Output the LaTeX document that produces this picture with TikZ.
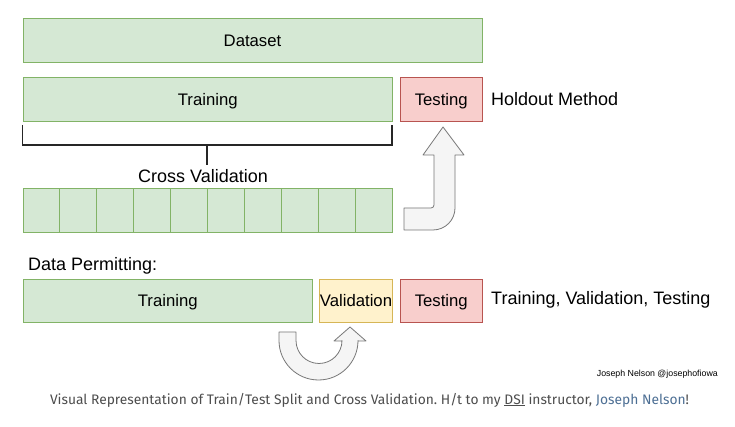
\documentclass[tikz,border=0pt]{standalone}
\usepackage{fontspec}
\setmainfont{Liberation Sans}
\newfontfamily\capfont{Fira Sans}
\definecolor{gfill}{HTML}{D5E8D4}
\definecolor{gline}{HTML}{82B366}
\definecolor{rfill}{HTML}{F8CECC}
\definecolor{rline}{HTML}{B85450}
\definecolor{yfill}{HTML}{FFF2CC}
\definecolor{yline}{HTML}{D6B656}
\definecolor{afill}{HTML}{F5F5F5}
\definecolor{aline}{HTML}{777777}
\definecolor{capgray}{HTML}{4D4D4D}
\definecolor{linkblue}{HTML}{4D6F94}
\begin{document}
\frenchspacing
\begin{tikzpicture}[x=1pt,y=1pt,
  base/.style={draw, line width=1pt, anchor=north west, inner sep=0pt, minimum height=44pt, text height=12pt, text depth=0pt, font=\fontsize{16.7}{20}\selectfont},
  gbox/.style={base, fill=gfill, draw=gline},
  rbox/.style={base, fill=rfill, draw=rline},
  ybox/.style={base, fill=yfill, draw=yline},
  lbl/.style={inner sep=0pt, font=\fontsize{18}{21}\selectfont},
  bigarrow/.style={fill=afill, draw=aline, line width=0.8pt, line join=round},
  bracket/.style={draw=black!85, line width=1.6pt}
]
\useasboundingbox (0,0) rectangle (735,427);
\fill[white] (0,0) rectangle (735,427);

% row 1
\node[gbox, minimum width=459pt] (dataset) at (22.5,408.5) {Dataset};
% row 2
\node[gbox, minimum width=369.5pt] (train1) at (22.5,350) {Training};
\node[rbox, minimum width=81.5pt] (test1) at (400,350) {Testing};
\node[lbl, anchor=west] (holdout) at (491,328) {Holdout Method};

% bracket
\coordinate (bl) at (22.5,302);
\coordinate (br) at (392,302);
\coordinate (stemtop) at (207,282);
\coordinate (stembot) at (207,262);
\draw[bracket] (bl) -- (22.5,282) -- (392,282) -- (br);
\draw[bracket] (stemtop) -- (stembot);
\node[lbl] (cv) at (203,251) {Cross Validation};

% folds
\foreach \i in {0,...,9}{
  \node[gbox, minimum width=36.95pt] (f\i) at ({22.5+36.95*\i},239) {};
}

% up arrow
\draw[bigarrow] (404,219) -- (431,219) arc (-90:0:3) -- (434,272) -- (423,272) -- (443,300) -- (464,272) -- (455,272) -- (455,219) arc (0:-90:22) -- (404,197) -- cycle;

% data permitting row
\node[lbl, anchor=west] (dp) at (28,161) {Data Permitting:};
\node[gbox, minimum width=289.5pt, minimum height=43pt] (train2) at (22.5,148) {Training};
\node[ybox, minimum width=73pt, minimum height=43pt] (valid) at (319,148) {Validation};
\node[rbox, minimum width=81.5pt, minimum height=43pt] (test2) at (400,148) {Testing};
\node[lbl, anchor=west] (tvt) at (491,127) {Training, Validation, Testing};

% U arrow
\draw[bigarrow] (279,95) -- (279,86.5) arc (180:360:39.5) -- (358,86) -- (366,86) -- (350,100) -- (334,86) -- (342,86) -- (342,86.5) arc (0:-180:23) -- (296,95) -- cycle;

% credit
\node[inner sep=0pt, anchor=east, font=\fontsize{8.8}{10}\selectfont] (credit) at (718,53) {Joseph Nelson @josephofiowa};

% caption
\node[inner sep=0pt, text=capgray, font=\capfont\fontsize{13.8}{16}\selectfont] (caption) at (369.5,27) {Visual Representation of Train/Test Split and Cross Validation. H/t to my \underline{DSI} instructor, \textcolor{linkblue}{Joseph Nelson}!};
\end{tikzpicture}
\end{document}
